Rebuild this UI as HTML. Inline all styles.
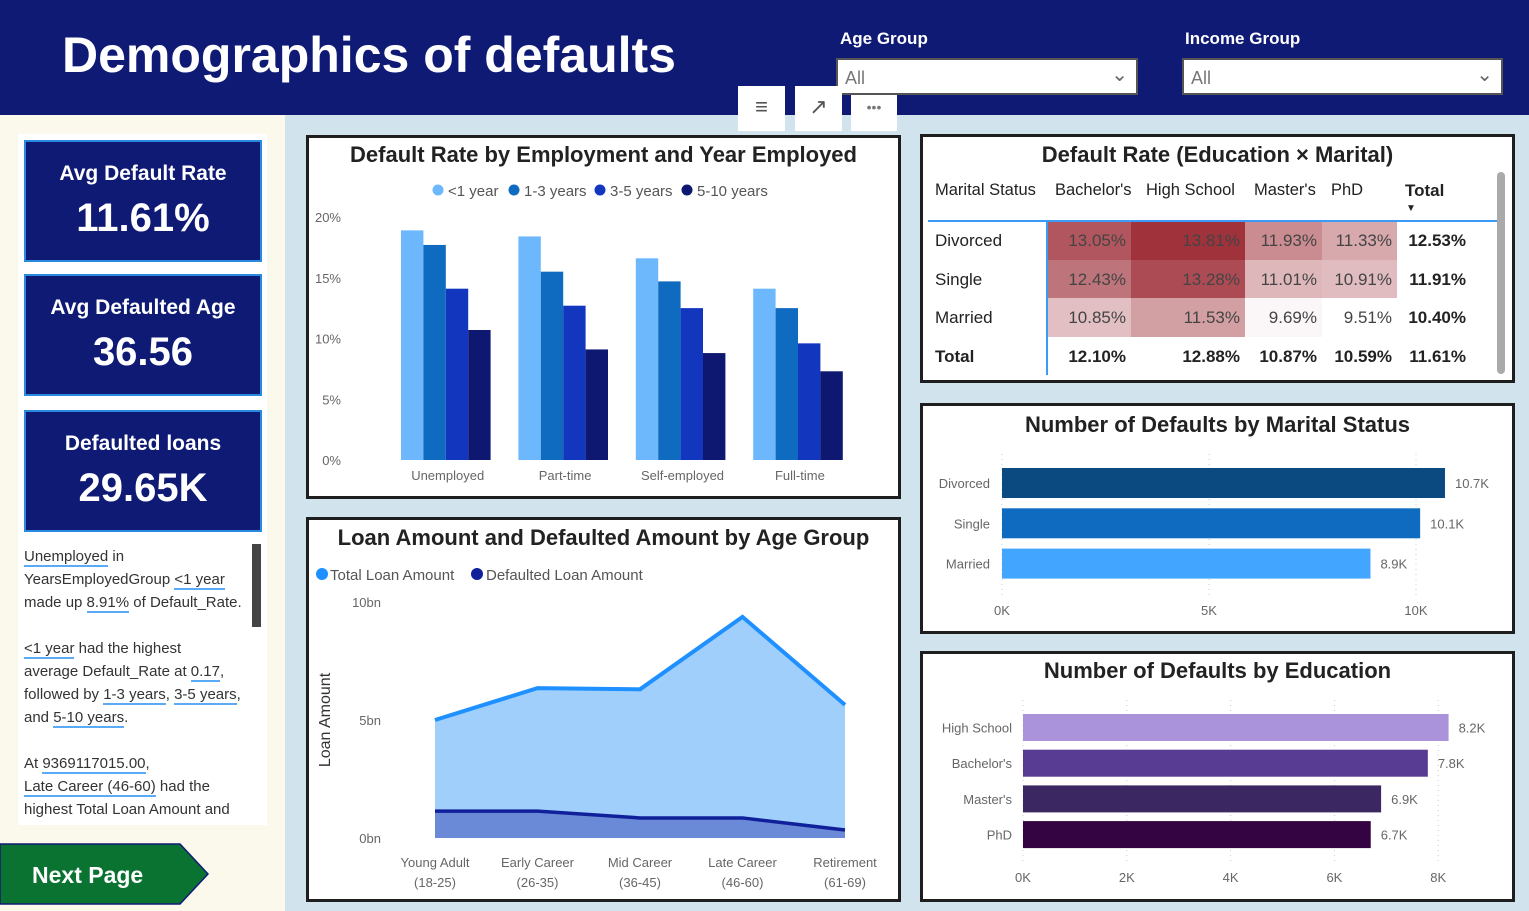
<!DOCTYPE html>
<html><head><meta charset="utf-8">
<style>
*{box-sizing:border-box;margin:0;padding:0}
body{width:1529px;height:911px;position:relative;overflow:hidden;background:#d1e4ee;font-family:"Liberation Sans",sans-serif}
.abs{position:absolute}
.panel{position:absolute;background:#fff;border:3px solid #1e1e1e}
.ptitle{position:absolute;left:0;right:0;text-align:center;font-weight:bold;font-size:22px;color:#222}
.kpi{position:absolute;left:24px;width:238px;height:122px;background:#0f1a75;border:2px solid #2a8ae0;color:#fff;text-align:center}
.kpi .l{font-weight:bold;font-size:21px;margin-top:20px}
.kpi .v{font-weight:bold;font-size:40px;margin-top:10px}
.u{border-bottom:2px solid #5aaaf5}
.mt{position:absolute;font-size:17px;color:#222;white-space:nowrap}
</style></head><body>
<div class="abs" style="left:0;top:0;width:1529px;height:115px;background:#0f1a75"></div>
<div class="abs" style="left:62px;top:26px;color:#fff;font-weight:bold;font-size:50px">Demographics of defaults</div>
<div class="abs" style="left:840px;top:29px;color:#fff;font-weight:bold;font-size:17px">Age Group</div>
<div class="abs" style="left:836px;top:58px;width:302px;height:37px;background:#fff;border:2px solid #555;color:#777;font-size:18px;padding:8px 0 0 7px">All<span style="position:absolute;right:8px;top:2px;font-size:20px;color:#666">&#8964;</span></div>
<div class="abs" style="left:1185px;top:29px;color:#fff;font-weight:bold;font-size:17px">Income Group</div>
<div class="abs" style="left:1182px;top:58px;width:321px;height:37px;background:#fff;border:2px solid #555;color:#777;font-size:18px;padding:8px 0 0 7px">All<span style="position:absolute;right:8px;top:2px;font-size:20px;color:#666">&#8964;</span></div>
<div class="abs" style="left:738px;top:86px;width:47px;height:45px;background:#fff;text-align:center;font-size:22px;color:#555;padding-top:8px">&#8801;</div>
<div class="abs" style="left:795px;top:86px;width:47px;height:45px;background:#fff;text-align:center;font-size:22px;color:#555;padding-top:8px">&#8599;</div>
<div class="abs" style="left:851px;top:95px;width:46px;height:36px;background:#fff;text-align:center;font-size:14px;color:#777;padding-top:4px">•••</div>

<div class="abs" style="left:0;top:115px;width:285px;height:796px;background:#fbf8ec"></div>
<div class="abs" style="left:18px;top:134px;width:249px;height:691px;background:#fff"></div>
<div class="kpi" style="top:140px"><div class="l">Avg Default Rate</div><div class="v">11.61%</div></div>
<div class="kpi" style="top:274px"><div class="l">Avg Defaulted Age</div><div class="v">36.56</div></div>
<div class="kpi" style="top:410px"><div class="l">Defaulted loans</div><div class="v">29.65K</div></div>
<div class="abs" style="left:24px;top:545px;width:228px;height:278px;overflow:hidden;font-size:15px;line-height:23px;color:#333">
<span class="u">Unemployed</span> in<br>YearsEmployedGroup <span class="u">&lt;1 year</span><br>made up <span class="u">8.91%</span> of Default_Rate.<br><br>
<span class="u">&lt;1 year</span> had the highest<br>average Default_Rate at <span class="u">0.17</span>,<br>followed by <span class="u">1-3 years</span>, <span class="u">3-5 years</span>,<br>and <span class="u">5-10 years</span>.<br><br>
At <span class="u">9369117015.00</span>,<br><span class="u">Late Career (46-60)</span> had the<br>highest Total Loan Amount and<br>more text here
</div>
<div class="abs" style="left:252px;top:544px;width:9px;height:83px;background:#444"></div>
<svg class="abs" style="left:0;top:840px" width="215" height="68">
<polygon points="0,4 180,4 208,34 180,64 0,64" fill="#0b7332" stroke="#0f1a75" stroke-width="1.5"/>
<text x="32" y="43" fill="#fff" font-size="23" font-weight="bold" font-family="Liberation Sans">Next Page</text></svg>

<div class="panel" style="left:306px;top:135px;width:595px;height:364px"><div class="ptitle" style="top:4px">Default Rate by Employment and Year Employed</div></div>
<div class="panel" style="left:306px;top:517px;width:595px;height:385px"><div class="ptitle" style="top:5px">Loan Amount and Defaulted Amount by Age Group</div></div>
<div class="panel" style="left:920px;top:134px;width:595px;height:249px"><div class="ptitle" style="top:5px">Default Rate (Education × Marital)</div></div>
<div class="panel" style="left:920px;top:403px;width:595px;height:231px"><div class="ptitle" style="top:6px">Number of Defaults by Marital Status</div></div>
<div class="panel" style="left:920px;top:651px;width:595px;height:251px"><div class="ptitle" style="top:4px">Number of Defaults by Education</div></div>

<div id="matrix" class="abs" style="left:0;top:0"></div>
<svg id="charts" class="abs" style="left:0;top:0" width="1529" height="911" font-family="Liberation Sans"></svg>

<script>
// ---- employment chart data
const empCats = ["Unemployed","Part-time","Self-employed","Full-time"];
const empSeries = ["<1 year","1-3 years","3-5 years","5-10 years"];
const empLt1 = [18.9,18.4,16.6,14.1];
const emp13 = [17.7,15.5,14.7,12.5];
const emp35 = [14.1,12.7,12.5,9.6];
const emp510 = [10.7,9.1,8.8,7.3];
const empTicks = [0,5,10,15,20];
// ---- area chart data
const ageCats = [["Young Adult","(18-25)"],["Early Career","(26-35)"],["Mid Career","(36-45)"],["Late Career","(46-60)"],["Retirement","(61-69)"]];
const totalLoan = [5.0,6.35,6.3,9.37,5.64];
const defaultedLoan = [1.14,1.14,0.85,0.85,0.34];
const loanTicks = [0,5,10];
// ---- matrix data
const eduCols = ["Bachelor's","High School","Master's","PhD"];
const marRows = ["Divorced","Single","Married"];
const matVals = [[13.05,13.81,11.93,11.33],[12.43,13.28,11.01,10.91],[10.85,11.53,9.69,9.51]];
const rowTotals = [12.53,11.91,10.40];
const colTotals = [12.10,12.88,10.87,10.59];
const grandTotal = 11.61;
// ---- marital bars
const marCats = ["Divorced","Single","Married"];
const marVals = [10.7,10.1,8.9];
const marTicks = [0,5,10];
// ---- education bars
const eduCats = ["High School","Bachelor's","Master's","PhD"];
const eduVals = [8.2,7.8,6.9,6.7];
const eduTicks = [0,2,4,6,8];

const NS="http://www.w3.org/2000/svg";
const svg=document.getElementById('charts');
function mk(tag,attrs,parent){const e=document.createElementNS(NS,tag);for(const k in attrs)e.setAttribute(k,attrs[k]);(parent||svg).appendChild(e);return e;}
function txt(x,y,s,attrs){const e=mk('text',Object.assign({x:x,y:y,'font-size':13,fill:'#666'},attrs||{}));e.textContent=s;return e;}

// Employment chart
const ey=v=>460-v*12.15;
const bandX=i=>389+i*117.4;
const empColors=["#6db8fd","#0f6bbf","#1336bf","#0f1870"];
const empData=[empLt1,emp13,emp35,emp510];
empTicks.forEach(t=>{const e=txt(341,ey(t)+5,t+"%",{'text-anchor':'end'});

});
empCats.forEach((c,i)=>{
  empData.forEach((s,j)=>{
    const r=mk('rect',{x:bandX(i)+12+j*22.4,y:ey(s[i]),width:22.4,height:ey(0)-ey(s[i]),fill:empColors[j]});
    
    
  });
  const e=txt(bandX(i)+58.7,480,c,{'text-anchor':'middle'});
  
  
});
const legX=[438,514,600,687];
empSeries.forEach((s,j)=>{
  const c=mk('circle',{cx:legX[j],cy:190,r:5.5,fill:empColors[j]});
  
  
  const e=txt(legX[j]+10,196,s,{'font-size':15,fill:'#555'});
  
  
});

// Area chart
const ax=i=>435+i*102.5;
const ay=v=>838-v*23.6;
loanTicks.forEach(t=>{const e=txt(381,ay(t)+5,t+"bn",{'text-anchor':'end'});

});
const yl=txt(0,0,"Loan Amount",{'font-size':16,fill:'#333','text-anchor':'middle',transform:'translate(330,720) rotate(-90)'});


function areaPath(arr){let d="M"+ax(0)+","+ay(0);arr.forEach((v,i)=>d+=" L"+ax(i)+","+ay(v));return d+" L"+ax(arr.length-1)+","+ay(0)+" Z";}
function linePath(arr){return arr.map((v,i)=>(i?"L":"M")+ax(i)+","+ay(v)).join(" ");}
const a1=mk('path',{d:areaPath(totalLoan),fill:'#a0cffb'});


const a2=mk('path',{d:areaPath(defaultedLoan),fill:'#6a8ad8'});


const l1=mk('path',{d:linePath(totalLoan),fill:'none',stroke:'#1e90ff','stroke-width':4});


const l2=mk('path',{d:linePath(defaultedLoan),fill:'none',stroke:'#10209a','stroke-width':3.5});


ageCats.forEach((c,i)=>{
  const e1=txt(ax(i),867,c[0],{'text-anchor':'middle'});
  
  
  const e2=txt(ax(i),887,c[1],{'text-anchor':'middle'});
  
  
});
[[322,330,"Total Loan Amount","#1e90ff"],[477,486,"Defaulted Loan Amount","#10209a"]].forEach(l=>{
  const c=mk('circle',{cx:l[0],cy:574,r:6,fill:l[3]});
  
  
  const e=txt(l[1],580,l[2],{'font-size':15,fill:'#555'});
  
  
});

// Horizontal bars
function hbars(cats,vals,ticks,x0,pxPer,y0,step,h,colors,labX,labY,tickY){
  ticks.forEach(t=>{
    const x=x0+t*pxPer;
    const g=mk('line',{x1:x,x2:x,y1:y0-14,y2:tickY-18,stroke:'#ccc','stroke-dasharray':'1,4'});
    
    
    const e=txt(x,tickY,t+"K",{'text-anchor':'middle'});
    
    
  });
  cats.forEach((c,i)=>{
    const y=y0+i*step;
    const r=mk('rect',{x:x0,y:y,width:vals[i]*pxPer,height:h,fill:colors[i]});
    
    
    const e=txt(labX,y+h/2+5,c,{'text-anchor':'end'});
    
    
    const v=txt(x0+vals[i]*pxPer+10,y+h/2+5,vals[i].toFixed(1)+"K",{});
    
    
  });
}
hbars(marCats,marVals,marTicks,1002,41.4,468,40.3,30,["#0b4a80","#0f6bbf","#42a5ff"],990,0,615);
hbars(eduCats,eduVals,eduTicks,1023,51.9,714,35.7,27,["#ab93db","#583b92","#3b2762","#330441"],1012,0,882);

// Matrix
const M=document.getElementById('matrix');
function div(style,text,name){const d=document.createElement('div');d.className='mt';d.style.cssText=style;d.textContent=text;


M.appendChild(d);return d;}
const colL=[1047,1131,1245,1322], colR=[1131,1245,1322,1397];
const hdrL=[1055,1146,1254,1331];
const rowT=[221,260,298];
const mn=9.51,mx=13.81;
function heat(v){const t=(v-mn)/(mx-mn);const r=Math.round(255-t*95),g=Math.round(255-t*205),b=Math.round(255-t*195);return `rgb(${r},${g},${b})`;}
div("left:935px;top:181px;font-size:16.5px","Marital Status","matrix-header");
eduCols.forEach((c,j)=>div(`left:${hdrL[j]}px;top:181px;font-size:16.5px`,c,"matrix-column-header"));
div("left:1405px;top:181px;font-weight:bold","Total","matrix-total-header");
div("left:1406px;top:203px;font-size:10px","▼","sort-indicator");
marRows.forEach((r,i)=>{
  div(`left:935px;top:${rowT[i]+10}px`,r,"matrix-row-header");
  eduCols.forEach((c,j)=>{
    div(`left:${colL[j]}px;top:${rowT[i]}px;width:${colR[j]-colL[j]}px;height:${(i<2?rowT[i+1]:337)-rowT[i]}px;background:${heat(matVals[i][j])};text-align:right;padding:10px 5px 0 0;color:#444`,matVals[i][j].toFixed(2)+"%","matrix-cell");
  });
  div(`left:1400px;width:66px;top:${rowT[i]+10}px;text-align:right;font-weight:bold`,rowTotals[i].toFixed(2)+"%","matrix-row-total");
});
div("left:935px;top:347px;font-weight:bold","Total","matrix-total-row-label");
colTotals.forEach((v,j)=>div(`left:${colL[j]}px;width:${colR[j]-colL[j]-5}px;top:347px;text-align:right;font-weight:bold`,v.toFixed(2)+"%","matrix-column-total"));
div("left:1400px;width:66px;top:347px;text-align:right;font-weight:bold",grandTotal.toFixed(2)+"%","matrix-grand-total");
div("left:928px;top:220px;width:572px;height:2px;background:#3a9af5","","matrix-header-line");
div("left:1046px;top:221px;width:2px;height:154px;background:#3a9af5","","matrix-divider");
div("left:1497px;top:172px;width:8px;height:202px;background:#aaa;border-radius:4px","","matrix-scrollbar");
</script>
</body></html>
